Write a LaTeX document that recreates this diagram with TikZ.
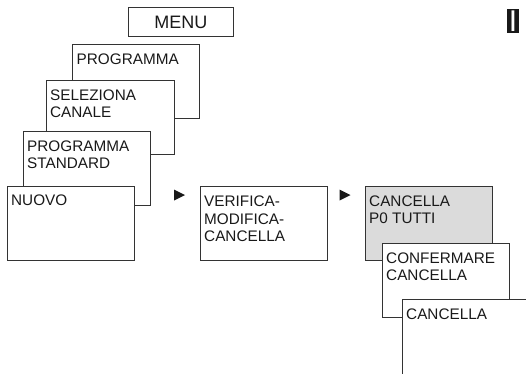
\documentclass[tikz,border=0pt]{standalone}
\usepackage{fontspec}
\setmainfont{Liberation Sans}
\begin{document}
\begin{tikzpicture}[x=1pt,y=-1pt,
  box/.style={draw=black!80,line width=0.8pt,fill=white,anchor=north west,inner sep=0pt,minimum width=127pt,minimum height=74pt},
  greybox/.style={box,fill=black!14},
  txt/.style={anchor=north west,inner sep=0pt,align=left,text=black!90,font=\fontsize{15.3}{17.5}\selectfont},
  tri/.style={fill=black!90}]
\clip (0,0) rectangle (526,373);
\fill[white] (0,0) rectangle (526,373);
% menu
\node[draw=black!80,line width=0.8pt,anchor=north west,inner sep=0pt,minimum width=105pt,minimum height=29pt] (menu) at (128,7) {};
\node[text=black!90,font=\fontsize{18}{20}\selectfont,inner sep=0pt] (menut) at (menu.center) {MENU};
% stack
\node[box] (prog) at (72,44) {};
\node[txt] (progt) at (76.5,54) {PROGRAMMA};
\node[box,minimum width=128pt] (sel) at (46,80) {};
\node[txt] (selt) at (50,89.5) {SELEZIONA\\CANALE};
\node[box] (std) at (23,131) {};
\node[txt] (stdt) at (27,140.5) {PROGRAMMA\\STANDARD};
\node[box] (nuovo) at (7,186) {};
\node[txt] (nuovot) at (11,195) {NUOVO};
% arrows
\fill[tri] (174,189.5) -- (185,195) -- (174,200.5) -- cycle;
\node[box] (ver) at (200,186) {};
\node[txt] (vert) at (204,196) {VERIFICA-\\MODIFICA-\\CANCELLA};
\fill[tri] (339.5,189.5) -- (350.5,195) -- (339.5,200.5) -- cycle;
\node[greybox] (canc) at (365,186) {};
\node[txt] (canct) at (369,195.5) {CANCELLA\\P0 TUTTI};
\node[box] (conf) at (382,243) {};
\node[txt] (conft) at (386,252.5) {CONFERMARE\\CANCELLA};
\node[box,minimum width=160pt,minimum height=110pt] (last) at (402,299) {};
\node[txt] (lastt) at (406,308.5) {CANCELLA};
% tab marker
\fill[black!90] (507,9) rectangle (519,33);
\node[text=white,inner sep=0pt,font=\fontsize{30}{30}\selectfont] (tab) at (513,21) {I};
\end{tikzpicture}
\end{document}
